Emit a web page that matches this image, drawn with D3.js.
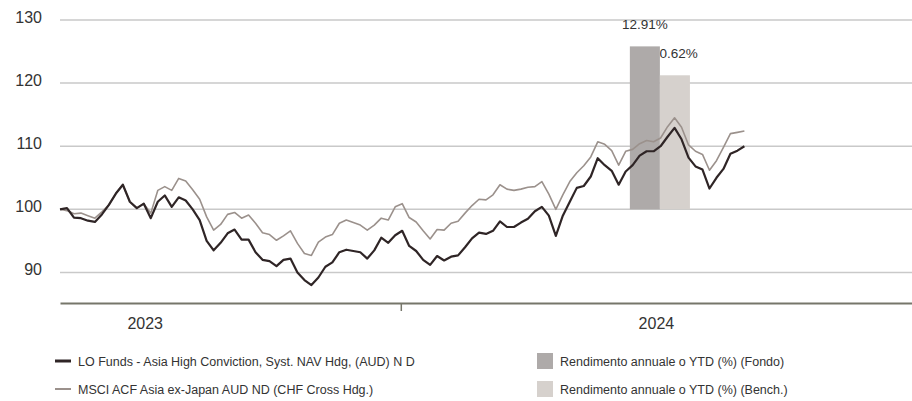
<!doctype html>
<meta charset="utf-8">
<style>
  body { margin: 0; background: #fff; }
  text { font-family: "Liberation Sans", Arial, sans-serif; fill: #333; }
</style>
<body>
<script src="https://cdn.jsdelivr.net/npm/d3@7/dist/d3.min.js"></script>
<script>
var
  W = 912, H = 401,
  startDate = new Date(2023, 4, 2), // first observation
  stepDays = 5                       // spacing of the observations
;

// LO Funds - Asia High Conviction (dark line)
var fundValues = [
  100.0, 100.2, 98.7, 98.6, 98.2, 98.0, 99.2, 100.7, 102.5, 103.9,
  101.2, 100.2, 100.9, 98.6, 101.2, 102.2, 100.4, 101.9, 101.4, 100.0,
  98.3, 95.0, 93.5, 94.7, 96.2, 96.8, 95.2, 95.2, 93.2, 92.0,
  91.8, 91.0, 92.0, 92.2, 90.0, 88.8, 88.0, 89.2, 90.9, 91.6,
  93.2, 93.6, 93.4, 93.2, 92.2, 93.5, 95.5, 94.7, 95.9, 96.6,
  94.2, 93.4, 92.0, 91.2, 92.6, 91.9, 92.5, 92.7, 94.0, 95.4,
  96.3, 96.1, 96.6, 98.1, 97.2, 97.2, 97.9, 98.5, 99.7, 100.4,
  99.0, 95.8, 99.0, 101.2, 103.4, 103.7, 105.2, 108.1, 107.0, 106.1,
  103.9, 106.0, 107.0, 108.5, 109.2, 109.2, 110.0, 111.5, 112.9, 111.1,
  108.2, 106.8, 106.3, 103.3, 105.0, 106.4, 108.8, 109.3, 110.0
];

// MSCI AC Asia ex-Japan (light line)
var benchValues = [
  100.0, 99.8, 99.3, 99.4, 99.0, 98.6, 99.6, 100.7, 102.5, 103.9,
  101.2, 100.2, 100.9, 99.4, 103.0, 103.6, 103.0, 104.9, 104.5, 103.1,
  101.6, 98.8, 96.7, 97.6, 99.2, 99.5, 98.6, 99.1, 97.8, 96.3,
  96.0, 95.1, 95.8, 96.6, 94.6, 93.0, 92.7, 94.8, 95.6, 96.0,
  97.8, 98.3, 97.9, 97.5, 96.7, 97.5, 98.6, 98.3, 100.4, 100.9,
  98.7, 98.0, 96.6, 95.3, 96.8, 96.7, 97.8, 98.1, 99.4, 100.6,
  101.6, 101.5, 102.3, 103.9, 103.2, 103.0, 103.2, 103.5, 103.6, 104.4,
  102.4, 100.0, 102.3, 104.4, 105.8, 106.9, 108.3, 110.7, 110.3, 109.3,
  107.0, 109.2, 109.5, 110.4, 110.9, 110.7, 111.3, 113.1, 114.5, 113.0,
  110.2, 109.2, 108.7, 106.2, 107.7, 109.8, 112.0, 112.2, 112.4
];

var barNames = ['Fondo', 'Bench.'];
var barValues = [12.91, 10.62];
var barLabels = ['12.91%', '10.62%'];
var barColors = ['#aeaaa9', '#d6d1cd'];

var yTicks = [90, 100, 110, 120, 130];
var yearLabels = ['2023', '2024'];

var legendLines = [
  'LO Funds - Asia High Conviction, Syst. NAV Hdg, (AUD) N D',
  'MSCI ACF Asia ex-Japan AUD ND (CHF Cross Hdg.)'
];
var legendBars = [
  'Rendimento annuale o YTD (%) (Fondo)',
  'Rendimento annuale o YTD (%) (Bench.)'
];

var dates = fundValues.map(function(v, i){ return d3.timeDay.offset(startDate, i * stepDays); });

var svg = d3.select('body').append('svg').attr('width', W).attr('height', H);

var x = d3.scaleTime()
  .domain([startDate, new Date(2025, 0, 1)])
  .range([60, 912]);

var y = d3.scaleLinear()
  .domain([85, 130])
  .range([304, 20]);

// bars live on their own scale: 0 on the 100 line, 15% on the 130 line
var barY = d3.scaleLinear().domain([0, 15]).range([y(100), y(130)]);
var barX = d3.scaleBand()
  .domain(barNames)
  .range([x(new Date(2024, 5, 13)), x(new Date(2024, 6, 26))]);

// gridlines + y labels
svg.append('g').selectAll('line')
  .data(yTicks)
  .enter().append('line')
    .attr('x1', 60).attr('x2', W)
    .attr('y1', function(d){ return y(d); })
    .attr('y2', function(d){ return y(d); })
    .style('stroke', '#c9c9c9')
    .style('stroke-width', 1.5);

svg.append('g').selectAll('text')
  .data(yTicks)
  .enter().append('text')
    .attr('x', 42)
    .attr('y', function(d){ return y(d) + 3; })
    .style('text-anchor', 'end')
    .style('font-size', '16px')
    .text(function(d){ return d; });

// bar labels first, bars painted over them
svg.append('g').selectAll('text')
  .data(barValues)
  .enter().append('text')
    .attr('x', function(d, i){ return barX(barNames[i]) + barX.bandwidth() / 2; })
    .attr('y', function(d){ return barY(d) - 17; })
    .style('text-anchor', 'middle')
    .style('font-size', '13.5px')
    .text(function(d, i){ return barLabels[i]; });

svg.append('g').selectAll('rect')
  .data(barValues)
  .enter().append('rect')
    .attr('x', function(d, i){ return barX(barNames[i]); })
    .attr('width', barX.bandwidth())
    .attr('y', function(d){ return barY(d); })
    .attr('height', function(d){ return barY(0) - barY(d); })
    .style('fill', function(d, i){ return barColors[i]; });

// lines
var line = d3.line()
  .x(function(d){ return x(d[0]); })
  .y(function(d){ return y(d[1]); });

svg.append('path')
  .datum(dates.map(function(d, i){ return [d, benchValues[i]]; }))
  .attr('d', line)
  .style('fill', 'none')
  .style('stroke', '#9b918c')
  .style('stroke-width', 1.6)
  .style('stroke-linejoin', 'round');

svg.append('path')
  .datum(dates.map(function(d, i){ return [d, fundValues[i]]; }))
  .attr('d', line)
  .style('fill', 'none')
  .style('stroke', '#2f2526')
  .style('stroke-width', 2.2)
  .style('stroke-linejoin', 'round');

// x axis: one tick at the turn of the year
var xAxis = svg.append('g')
  .attr('transform', 'translate(0,' + 303 + ')')
  .call(d3.axisBottom(x)
    .tickValues([new Date(2024, 0, 1)])
    .tickFormat('')
    .tickSizeInner(8)
    .tickSizeOuter(0));
xAxis.select('.domain').style('stroke', '#76766a').style('stroke-width', 2);
xAxis.selectAll('.tick line').style('stroke', '#76766a').style('stroke-width', 1.5);

svg.append('g').selectAll('text')
  .data(yearLabels)
  .enter().append('text')
    .attr('x', function(d){ return x(new Date(+d, 6, 2)); })
    .attr('y', 329)
    .style('text-anchor', 'middle')
    .style('font-size', '16px')
    .text(function(d){ return d; });

// legend
var legend = svg.append('g').attr('class', 'legend');
var lineColors = ['#2f2526', '#9b918c'];
legendLines.forEach(function(t, i){
  var ly = 361 + i * 28;
  legend.append('line')
    .attr('x1', 55).attr('x2', 71)
    .attr('y1', ly).attr('y2', ly)
    .style('stroke', lineColors[i])
    .style('stroke-width', i === 0 ? 3 : 2);
  legend.append('text')
    .attr('x', 78).attr('y', ly + 4.5)
    .style('font-size', '12.5px')
    .text(t);
});
legendBars.forEach(function(t, i){
  var ly = 361 + i * 28;
  legend.append('rect')
    .attr('x', 537).attr('y', ly - 8)
    .attr('width', 16).attr('height', 16)
    .style('fill', barColors[i]);
  legend.append('text')
    .attr('x', 560).attr('y', ly + 4.5)
    .style('font-size', '12.5px')
    .text(t);
});
</script>
</body>
